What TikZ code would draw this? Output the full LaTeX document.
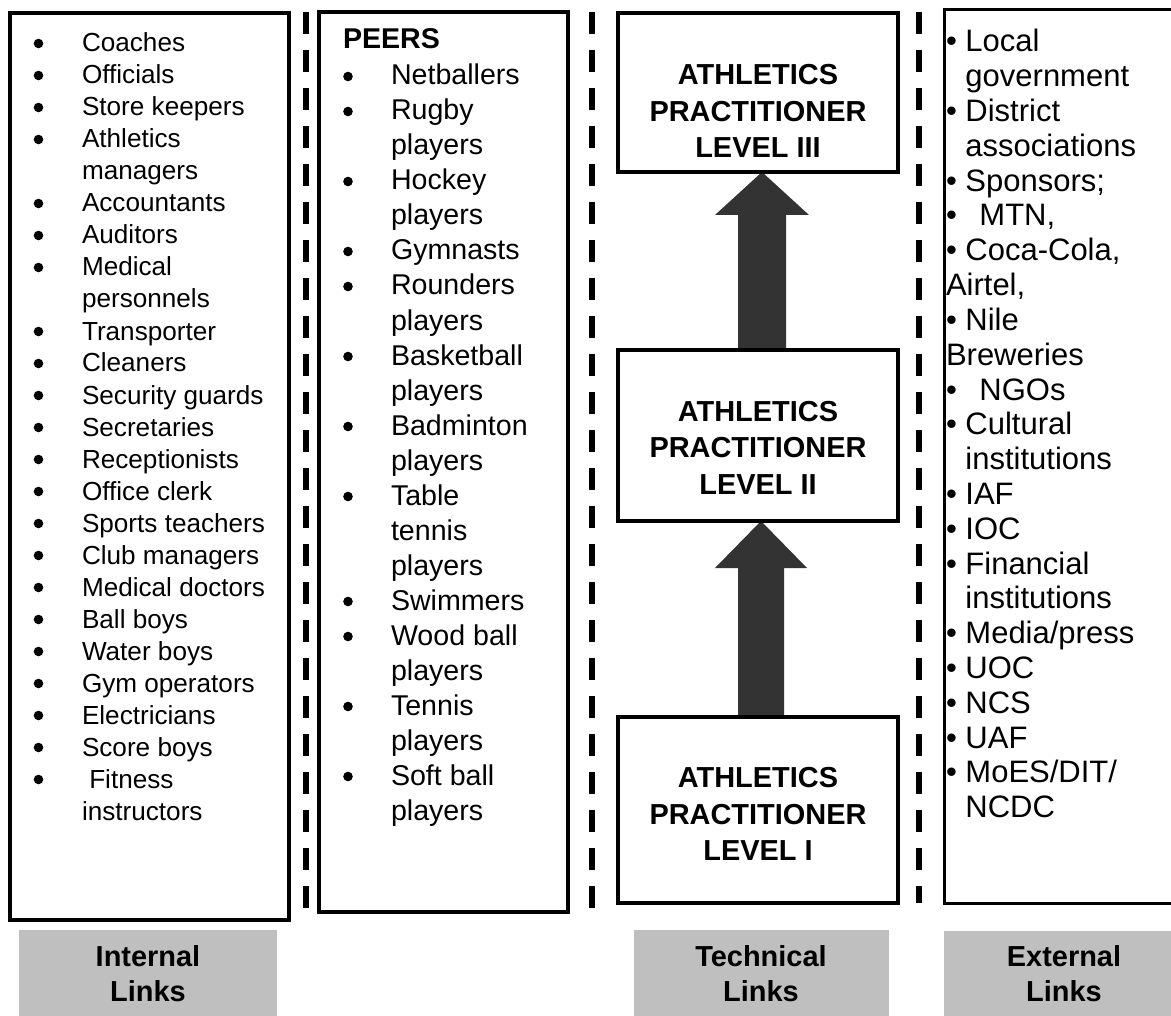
\documentclass[tikz,border=0pt]{standalone}
\usepackage{fontspec}
\setmainfont{Liberation Sans}
\usetikzlibrary{calc,fit}
\pgfdeclarelayer{background}
\pgfsetlayers{background,main}
\definecolor{arrowgray}{RGB}{51,51,51}
\definecolor{labelgray}{RGB}{191,191,191}

\begin{document}
\begin{tikzpicture}[x=0.75pt,y=-0.75pt,
  panel/.style={draw, line width=3pt, inner sep=0pt, outer sep=0pt},
  thinpanel/.style={draw, line width=2.25pt, inner sep=0pt, outer sep=0pt},
  sepline/.style={line width=4.5pt, dash pattern=on 16.5pt off 12pt},
  intline/.style={anchor=base west, inner sep=0pt, outer sep=0pt,
    font=\fontsize{19.6pt}{23.4pt}\selectfont},
  peerline/.style={anchor=base west, inner sep=0pt, outer sep=0pt,
    font=\fontsize{21.45pt}{26pt}\selectfont},
  extline/.style={anchor=base west, inner sep=0pt, outer sep=0pt,
    font=\fontsize{23.25pt}{26pt}\selectfont},
  leveltext/.style={inner sep=0pt, outer sep=0pt, align=center,
    font=\fontsize{21.7pt}{27.4pt}\selectfont\bfseries},
  linkbox/.style={fill=labelgray, inner sep=0pt, outer sep=0pt},
  linktext/.style={inner sep=0pt, outer sep=0pt, align=center,
    font=\fontsize{21.7pt}{26.25pt}\selectfont\bfseries},
  uparrow/.style={fill=arrowgray}
]
\useasboundingbox (0,0) rectangle (1171,1016);

% column frames
\node[panel, fit={(10,13) (289,920)}] (int-box) {};
\node[panel, fit={(319,12) (568,912)}] (peer-box) {};
\node[thinpanel, fit={(944,10) (1190,903)}] (ext-box) {};

% practitioner levels
\node[panel, fit={(618,13) (898,172)}] (lvl3) {};
\node[panel, fit={(618,350) (898,521)}] (lvl2) {};
\node[panel, fit={(618,717) (898,903)}] (lvl1) {};
\node[leveltext] (lvl3-t) at ($(lvl3.center)+(0,18.5)$) {ATHLETICS\\PRACTITIONER\\LEVEL III};
\node[leveltext] (lvl2-t) at ($(lvl2.center)+(0,12)$) {ATHLETICS\\PRACTITIONER\\LEVEL II};
\node[leveltext] (lvl1-t) at ($(lvl1.center)+(0,4)$) {ATHLETICS\\PRACTITIONER\\LEVEL I};

% progression arrows
\begin{pgfonlayer}{background}
  \fill[uparrow] ($(lvl1.north)+(-20,0)$) -- ($(lvl2.south)+(-20,47)$)
    -- ($(lvl2.south)+(-43,47)$) -- ($(lvl2.south)+(3,0)$)
    -- ($(lvl2.south)+(49,47)$) -- ($(lvl2.south)+(26,47)$)
    -- ($(lvl1.north)+(26,0)$) -- cycle;
  \fill[uparrow] ($(lvl2.north)+(-20,0)$) -- ($(lvl3.south)+(-20,43)$)
    -- ($(lvl3.south)+(-43,43)$) -- ($(lvl3.south)+(4,0)$)
    -- ($(lvl3.south)+(51,43)$) -- ($(lvl3.south)+(28,43)$)
    -- ($(lvl2.north)+(28,0)$) -- cycle;
\end{pgfonlayer}

% dashed separators
\draw[sepline] (306,12) -- (306,908);
\draw[sepline] (592,12) -- (592,910);
\draw[sepline] (919,12) -- (919,903);

% internal links list
\foreach \b/\t [count=\i] in {1/Coaches, 1/Officials, 1/Store keepers,
    1/Athletics, 0/managers, 1/Accountants, 1/Auditors, 1/Medical,
    0/personnels, 1/Transporter, 1/Cleaners, 1/Security guards,
    1/Secretaries, 1/Receptionists, 1/Office clerk, 1/Sports teachers,
    1/Club managers, 1/Medical doctors, 1/Ball boys, 1/Water boys,
    1/Gym operators, 1/Electricians, 1/Score boys, 1/\ Fitness,
    0/instructors} {
  \node[intline] (int-\i) at (82,{52+32*(\i-1)}) {\t};
  \ifnum\b=1 \fill (38.5,{52+32*(\i-1)-8.5}) circle[radius=4.8]; \fi
}

% peers list
\node[peerline, font=\fontsize{21.45pt}{26pt}\selectfont\bfseries] (peers-head) at (343,49) {PEERS};
\foreach \b/\t [count=\i] in {1/Netballers, 1/Rugby, 0/players, 1/Hockey,
    0/players, 1/Gymnasts, 1/Rounders, 0/players, 1/Basketball, 0/players,
    1/Badminton, 0/players, 1/Table, 0/tennis, 0/players, 1/Swimmers,
    1/Wood ball, 0/players, 1/Tennis, 0/players, 1/Soft ball, 0/players} {
  \node[peerline] (peer-\i) at (391,{85+35*(\i-1)}) {\t};
  \ifnum\b=1 \fill (348,{85+35*(\i-1)-8.5}) circle[radius=4.8]; \fi
}

% external links list
\foreach \t [count=\i] in {
    {\textbullet\ Local}, {\hphantom{\textbullet\ }government},
    {\textbullet\ District}, {\hphantom{\textbullet\ }associations},
    {\textbullet\ Sponsors;}, {\textbullet\hspace{0.73em}MTN,},
    {\textbullet\ Coca-Cola,}, {Airtel,},
    {\textbullet\ Nile}, {Breweries},
    {\textbullet\hspace{0.73em}NGOs}, {\textbullet\ Cultural},
    {\hphantom{\textbullet\ }institutions}, {\textbullet\ IAF},
    {\textbullet\ IOC}, {\textbullet\ Financial},
    {\hphantom{\textbullet\ }institutions}, {\textbullet\ Media/press},
    {\textbullet\ UOC}, {\textbullet\ NCS}, {\textbullet\ UAF},
    {\textbullet\ MoES/DIT/}, {\hphantom{\textbullet\ }NCDC}} {
  \node[extline] (ext-\i) at (946,{52+34.8*(\i-1)}) {\t};
}

% link category labels
\node[linkbox, fit={(19,930) (277,1018)}] (lab-int) {};
\node[linkbox, fit={(634,930) (889,1018)}] (lab-tech) {};
\node[linkbox, fit={(944,931) (1185,1018)}] (lab-ext) {};
\node[linktext] (lab-int-t) at (148,974) {Internal\\Links};
\node[linktext] (lab-tech-t) at (761,974) {Technical\\Links};
\node[linktext] (lab-ext-t) at (1064,974) {External\\Links};
\end{tikzpicture}
\end{document}
